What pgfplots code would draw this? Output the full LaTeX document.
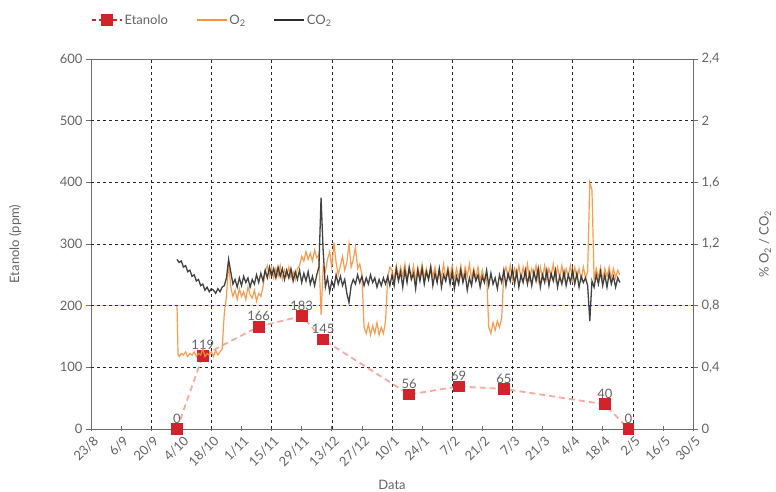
\documentclass[border=0pt]{standalone}
\usepackage{fontspec}
\setmainfont{Lato}
\usepackage{pgfplots}
\usepackage{pgfplotstable}
\pgfplotsset{compat=1.18}
\definecolor{txt}{RGB}{100,100,100}
\definecolor{axc}{RGB}{110,110,110}
\definecolor{etred}{RGB}{210,35,45}
\definecolor{etline}{RGB}{246,170,160}
\definecolor{otwo}{RGB}{247,145,60}
\definecolor{ctwo}{RGB}{45,45,45}
\definecolor{thr}{RGB}{235,225,30}

\pgfplotstableread{
x y l
40 0 0
52 119 119
78 166 166
98 183 183
108 145 145
148 56 56
171 69 69
192 65 65
239 40 40
250 0 0
}\etanolo

\pgfplotstableread{
x y
40 1.10
41 1.08
42 1.09
43 1.05
44 1.06
45 1.02
46 1.03
47 0.99
48 1.00
49 0.96
50 0.97
51 0.93
52 0.94
53 0.90
54 0.92
55 0.89
56 0.91
57 0.90
58 0.88
59 0.91
60 0.89
61 0.92
62 0.93
63 0.98
64 1.10
65 1.02
66 0.94
67 0.97
68 0.92
69 0.98
70 0.93
71 0.99
72 0.95
73 0.98
74 0.92
75 0.97
76 0.94
77 1.00
78 0.95
79 1.01
80 0.96
81 1.03
82 0.98
83 1.05
84 0.99
85 1.04
86 0.98
87 1.05
88 0.99
89 1.04
90 0.97
91 1.03
92 0.98
93 1.04
94 0.96
95 1.02
96 0.97
97 1.03
98 0.95
99 1.01
100 0.96
101 1.02
102 0.94
103 0.99
104 0.93
105 1.00
106 1.05
107 1.50
108 1.15
109 0.92
110 0.98
111 0.89
112 0.96
113 0.92
114 1.00
115 0.94
116 0.99
117 0.93
118 0.97
119 0.88
120 0.82
121 0.93
122 0.97
123 0.94
124 1.00
125 0.95
126 0.99
127 0.93
128 0.98
129 0.94
130 1.00
131 0.95
132 0.98
133 0.92
134 0.97
135 0.93
136 0.98
137 0.94
138 0.99
139 0.93
140 1.00
141 0.93
142 1.04
143 0.96
144 1.02
145 0.92
146 1.03
147 0.95
148 1.05
149 0.97
150 1.01
151 0.91
152 1.03
153 0.96
154 1.04
155 0.94
156 1.02
157 0.97
158 1.05
159 0.93
160 1.01
161 0.95
162 1.04
163 0.92
164 1.00
165 0.96
166 1.03
167 0.94
168 1.02
169 0.91
170 0.99
171 0.94
172 1.03
173 0.95
174 1.01
175 0.90
176 0.98
177 0.93
178 1.02
179 0.96
180 1.00
181 0.92
182 0.99
183 0.95
184 1.03
185 0.93
186 1.01
187 0.94
188 0.98
189 0.91
190 1.00
191 0.95
192 1.03
193 0.93
194 1.01
195 0.96
196 1.04
197 0.94
198 1.02
199 0.92
200 1.00
201 0.95
202 1.03
203 0.94
204 1.01
205 0.93
206 1.02
207 0.96
208 1.04
209 0.92
210 1.00
211 0.95
212 1.03
213 0.93
214 1.01
215 0.96
216 1.03
217 0.92
218 0.99
219 0.94
220 1.02
221 0.93
222 1.00
223 0.95
224 1.03
225 0.94
226 1.01
227 0.92
228 0.99
229 0.95
230 0.98
231 0.93
232 0.70
233 0.96
234 0.92
235 1.00
236 0.94
237 1.02
238 0.93
239 1.00
240 0.92
241 1.01
242 0.94
243 0.99
244 0.92
245 0.98
246 0.95
}\cotwo

\pgfplotstableread{
x y
40 0.80
40.5 0.48
41 0.47
42 0.49
43 0.48
44 0.50
45 0.47
46 0.49
47 0.48
48 0.50
49 0.47
50 0.49
51 0.48
52 0.52
53 0.47
54 0.49
55 0.48
56 0.50
57 0.47
58 0.51
59 0.48
60 0.50
61 0.52
62 0.75
63 0.86
64 1.08
65 0.92
66 0.86
67 0.90
68 0.84
69 0.91
70 0.86
71 0.89
72 0.84
73 0.92
74 0.87
75 0.85
76 0.90
77 0.83
78 0.88
79 0.86
80 0.92
81 1.02
82 1.06
83 0.99
84 1.05
85 0.98
86 1.04
87 0.99
88 1.06
89 0.97
90 1.03
91 0.99
92 1.05
93 0.98
94 1.02
95 0.97
96 1.04
97 1.06
98 1.12
99 1.09
100 1.15
101 1.10
102 1.14
103 1.09
104 1.16
105 1.11
106 1.13
107 0.74
108 1.05
109 1.02
110 1.10
111 1.15
112 1.05
113 1.21
114 1.08
115 1.00
116 1.06
117 1.12
118 1.03
119 1.08
120 1.20
121 1.05
122 1.10
123 1.18
124 1.04
125 1.07
126 1.00
127 0.66
128 0.62
129 0.68
130 0.61
131 0.67
132 0.62
133 0.69
134 0.61
135 0.66
136 0.62
137 0.70
138 0.98
139 1.05
140 1.03
141 0.97
142 1.06
143 0.98
144 1.05
145 0.99
146 1.07
147 0.97
148 1.04
149 0.98
150 1.06
151 0.96
152 1.05
153 0.99
154 1.07
155 0.98
156 1.04
157 0.97
158 1.06
159 0.99
160 1.05
161 0.96
162 1.04
163 0.98
164 1.07
165 0.97
166 1.05
167 0.99
168 1.06
169 0.96
170 1.04
171 0.98
172 1.06
173 0.97
174 1.05
175 0.99
176 1.07
177 0.97
178 1.04
179 0.98
180 1.05
181 0.96
182 1.03
183 0.97
184 1.00
185 0.66
186 0.62
187 0.69
188 0.64
189 0.70
190 0.66
191 0.72
192 1.00
193 1.05
194 0.98
195 1.06
196 0.97
197 1.04
198 0.99
199 1.06
200 0.97
201 1.05
202 0.98
203 1.07
204 0.97
205 1.04
206 0.99
207 1.06
208 0.96
209 1.05
210 0.98
211 1.06
212 0.97
213 1.04
214 0.99
215 1.07
216 0.97
217 1.05
218 0.98
219 1.06
220 0.97
221 1.04
222 0.99
223 1.06
224 0.97
225 1.05
226 0.98
227 1.04
228 0.97
229 1.05
230 0.98
231 1.02
232 1.60
233 1.55
234 0.97
235 1.04
236 0.98
237 1.05
238 0.97
239 1.04
240 0.99
241 1.05
242 0.97
243 1.04
244 0.98
245 1.03
246 1.00
}\otwodata

\begin{document}
\begin{tikzpicture}[font=\fontsize{13}{15}\selectfont]
\begin{axis}[
  name=main,
  scale only axis, width=602pt, height=370pt,
  xmin=0, xmax=280, ymin=0, ymax=600,
  /pgf/number format/assume math mode=true,
  axis line style={axc, line width=0.8pt},
  tick style={axc, line width=0.8pt},
  tick pos=left,
  xtick={0,14,...,280},
  xticklabels={23/8,6/9,20/9,4/10,18/10,1/11,15/11,29/11,13/12,27/12,10/1,24/1,7/2,21/2,7/3,21/3,4/4,18/4,2/5,16/5,30/5},
  xticklabel style={rotate=45, anchor=north east, text=txt, xshift=2pt},
  xtick align=center,
  ytick={0,100,...,600},
  ytick align=outside,
  major tick length=5pt,
  yticklabel style={text=txt},
  extra x ticks={28,56,...,252},
  extra x tick labels={},
  extra x tick style={grid=major, major tick length=0pt},
  extra y ticks={100,200,300,400,500},
  extra y tick labels={},
  extra y tick style={grid=major, major tick length=0pt},
  grid style={black!85, dash pattern=on 3pt off 3pt, line width=0.6pt},
  xlabel={Data},
  xlabel style={text=txt, at={(axis description cs:0.5,-0.151)}, anchor=center},
  ylabel={Etanolo (ppm)},
  ylabel style={text=txt, at={(axis description cs:-0.126,0.5)}, anchor=center},
  legend columns=3,
  legend style={at={(axis description cs:-0.005,1.105)}, anchor=west, draw=none, fill=none, text=txt,
    /tikz/every even column/.append style={column sep=26pt}},
  legend image code/.code={\draw[mark repeat=2,mark phase=2,#1] plot coordinates {(0pt,0pt)(15pt,0pt)(30pt,0pt)};},
]
\addlegendimage{etred, dashed, dash pattern=on 4pt off 3pt, line width=1.4pt, mark=square*, mark size=5pt, mark options={solid, fill=etred, draw=etred}}
\addlegendentry{Etanolo}
\addlegendimage{otwo, line width=1.4pt}
\addlegendentry{O\textsubscript{2}}
\addlegendimage{ctwo, line width=1.4pt}
\addlegendentry{CO\textsubscript{2}}
\addplot[thr, dash pattern=on 3pt off 3pt, dash phase=3pt, line width=1.2pt, forget plot] coordinates {(0,200) (280,200)};
\addplot[etline, dash pattern=on 6pt off 4pt, line width=1.8pt, mark=square*, mark size=5pt,
  mark options={solid, fill=etred, draw=etred},
  nodes near coords, point meta=explicit symbolic,
  every node near coord/.append style={text=txt, anchor=south, yshift=1.5pt},
  forget plot] table[x=x, y=y, meta=l] {\etanolo};
\coordinate (sw) at (rel axis cs:0,0);
\coordinate (ne) at (rel axis cs:1,1);
\end{axis}
\begin{axis}[
  scale only axis, width=602pt, height=370pt,
  xmin=0, xmax=280, ymin=0, ymax=2.4,
  /pgf/number format/assume math mode=true,
  axis x line=none,
  axis y line*=right,
  axis line style={axc, line width=0.8pt},
  tick style={axc, line width=0.8pt},
  ytick={0,0.4,0.8,1.2,1.6,2,2.4},
  ytick align=outside,
  major tick length=5pt,
  yticklabel style={text=txt, /pgf/number format/.cd, use comma, fixed, precision=1},
  ylabel={\% O\textsubscript{2} / CO\textsubscript{2}},
  ylabel style={text=txt, at={(axis description cs:1.1196,0.5)}, anchor=center},
]
\addplot[otwo, line width=1.2pt, opacity=0.9] table[x=x, y=y] {\otwodata};
\addplot[ctwo, line width=1.3pt, opacity=0.9] table[x=x, y=y] {\cotwo};
\end{axis}
\pgfresetboundingbox
\path[use as bounding box] ([xshift=-91pt,yshift=-63pt]sw) rectangle ([xshift=83pt,yshift=59pt]ne);
\end{tikzpicture}
\end{document}
